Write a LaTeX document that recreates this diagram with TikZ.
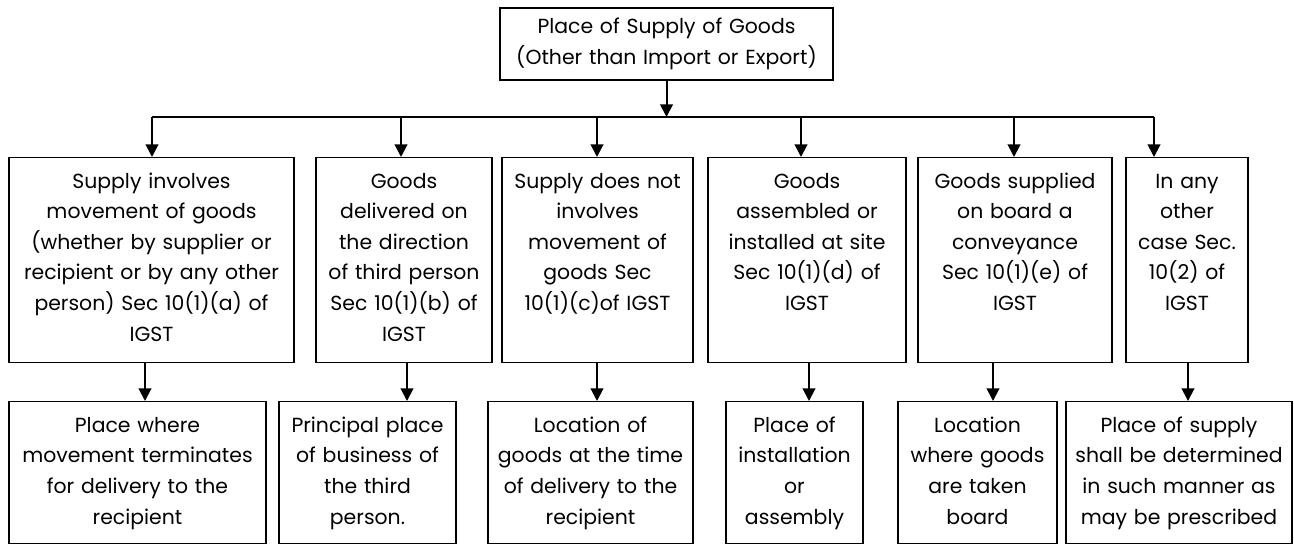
\documentclass[tikz,border=0pt]{standalone}
\usepackage{fontspec}
\setmainfont{Poppins}
\usetikzlibrary{arrows.meta,positioning}

\begin{document}
\begin{tikzpicture}[
    x=0.75pt, y=-0.75pt,
    box/.style={draw, line width=1.1pt, align=center, inner xsep=2pt, inner ysep=0pt,
        font=\fontsize{15.3}{22.9}\selectfont},
    ruling/.style={box, anchor=north, text height=23pt, text depth=130.75pt},
    place/.style={box, anchor=north, text height=23pt, text depth=83.5pt},
    link/.style={line width=1.5pt, -{Triangle[length=9.5pt,width=9.5pt]}}
]
\fill[white] (0,0) rectangle (1294,544);

\node[box, text width=245.75pt, minimum height=54pt] (supply) at (666.5,44)
    {Place of Supply of Goods\\(Other than Import or Export)};

% sections of IGST
\node[ruling, text width=209.75pt] (m1) at (151.5,157)
    {Supply involves\\movement of goods\\(whether by supplier or\\recipient or by any other\\person) Sec 10(1)(a) of\\IGST};
\node[ruling, text width=128pt] (m2) at (404,157)
    {Goods\\delivered on\\the direction\\of third person\\Sec 10(1)(b) of\\IGST};
\node[ruling, text width=139.25pt] (m3) at (597.5,157)
    {Supply does not\\involves\\movement of\\goods Sec\\10(1)(c)of IGST};
\node[ruling, text width=144.5pt] (m4) at (807,157)
    {Goods\\assembled or\\installed at site\\Sec 10(1)(d) of\\IGST};
\node[ruling, text width=141.5pt] (m5) at (1015,157)
    {Goods supplied\\on board a\\conveyance\\Sec 10(1)(e) of\\IGST};
\node[ruling, text width=87.5pt] (m6) at (1187,157)
    {In any\\other\\case Sec.\\10(2) of\\IGST};

% place of supply
\node[place, text width=188.75pt] (b1) at (137.5,401)
    {Place where\\movement terminates\\for delivery to the\\recipient};
\node[place, text width=128.75pt] (b2) at (367.5,401)
    {Principal place\\of business of\\the third\\person.};
\node[place, text width=149.75pt] (b3) at (590.5,401)
    {Location of\\goods at the time\\of delivery to the\\recipient};
\node[place, text width=98.75pt] (b4) at (794.5,401)
    {Place of\\installation\\or\\assembly};
\node[place, text width=115.25pt] (b5) at (977.5,401)
    {Location\\where goods\\are taken\\board};
\node[place, text width=165.5pt] (b6) at (1179,401)
    {Place of supply\\shall be determined\\in such manner as\\may be prescribed};

\foreach \i/\x in {1/152,2/401,3/597,4/801,5/1014,6/1154} {
    \coordinate (j\i) at (\x,117);
    \draw[link] (j\i) -- (j\i |- m\i.north);
}
\draw[line width=1.5pt] (j1) -- (j6);
\draw[link] (supply.south) -- (supply.south |- j1);

\foreach \i/\x in {1/145,2/407,3/597,4/809,5/993,6/1188}
    \draw[link] (\x,0 |- m\i.south) -- (\x,0 |- b\i.north);

\end{tikzpicture}
\end{document}
